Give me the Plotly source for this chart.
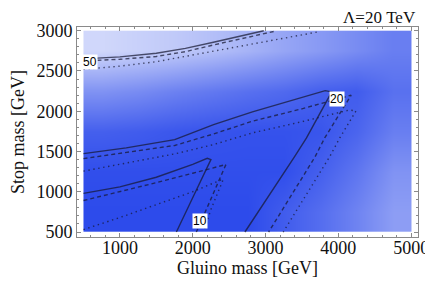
import plotly.graph_objects as go

# ---------------- background density (lightness 0=dark blue, 1=white) --------
bg_x_edges = [500, 1000, 1500, 2000, 2500, 3000, 3500, 4000, 4500, 5000]
bg_y_edges = [500, 1000, 1500, 2000, 2500, 3000]
bg_z = [
    [0.00, 0.00, 0.00, 0.00, 0.00, 0.10, 0.20, 0.33, 0.48],
    [0.02, 0.02, 0.02, 0.02, 0.02, 0.02, 0.12, 0.25, 0.42],
    [0.12, 0.10, 0.07, 0.05, 0.04, 0.04, 0.06, 0.15, 0.30],
    [0.42, 0.38, 0.32, 0.27, 0.22, 0.18, 0.12, 0.10, 0.22],
    [0.82, 0.78, 0.74, 0.68, 0.61, 0.53, 0.46, 0.38, 0.30],
]

# ---------------- contour lines -----------------------------------------------
x50_solid = [500, 1000, 1500, 1900, 2300, 2650, 2976]
y50_solid = [2650, 2675, 2720, 2780, 2860, 2930, 3000]
x50_dash = [500, 1000, 1500, 1900, 2300, 2700, 3150]
y50_dash = [2625, 2645, 2680, 2740, 2826, 2905, 2998]
x50_dot = [500, 1000, 1500, 2000, 2300, 3000, 3750]
y50_dot = [2520, 2560, 2615, 2700, 2750, 2865, 2990]

x20_solid = [500, 1087, 1753, 2287, 2820, 3400, 3820, 3909, 3563, 3397, 2717]
y20_solid = [1474, 1545, 1648, 1834, 1991, 2140, 2256, 2240, 1669, 1433, 500]
x20_dash = [500, 1753, 2287, 2820, 3500, 4153, 4176, 3813, 3680, 3043]
y20_dash = [1412, 1575, 1718, 1876, 2030, 2186, 2199, 1669, 1433, 500]
x20_dot = [500, 1753, 2287, 2820, 3500, 4150, 4243, 4020, 3880, 3243]
y20_dot = [1256, 1470, 1586, 1731, 1870, 2015, 2005, 1669, 1433, 500]

x10_solid = [500, 1000, 1500, 1750, 2000, 2200, 2250, 2013, 1776]
y10_solid = [980, 1060, 1180, 1260, 1340, 1415, 1400, 950, 500]
x10_dash = [500, 1000, 1487, 2000, 2420, 2456, 2197, 2113, 2050]
y10_dash = [891, 1000, 1110, 1230, 1330, 1338, 800, 640, 500]
x10_dot = [500, 1000, 1500, 2000, 2397, 2420, 2250, 2150]
y10_dot = [530, 680, 840, 1000, 1150, 1155, 780, 500]

label_text = ["50", "20", "10"]
label_x = [595, 3985, 2100]
label_y = [2611, 2150, 640]

x_ticks = [1000, 2000, 3000, 4000, 5000]
y_ticks = [500, 1000, 1500, 2000, 2500, 3000]

SERIF = "Liberation Serif"

fig = go.Figure()

fig.add_trace(go.Heatmap(
    x=bg_x_edges, y=bg_y_edges, z=bg_z, zmin=0, zmax=1, zsmooth="best",
    colorscale=[[0, "rgb(45,75,235)"], [1, "rgb(244,246,254)"]],
    showscale=False, hoverinfo="skip"))

line_color = "rgba(22,24,48,0.72)"
sets = [
    (x50_solid, y50_solid, "solid"), (x50_dash, y50_dash, "4px,3px"), (x50_dot, y50_dot, "1.4px,3.6px"),
    (x20_solid, y20_solid, "solid"), (x20_dash, y20_dash, "4px,3px"), (x20_dot, y20_dot, "1.4px,3.6px"),
    (x10_solid, y10_solid, "solid"), (x10_dash, y10_dash, "4px,3px"), (x10_dot, y10_dot, "1.4px,3.6px"),
]
for xs, ys, d in sets:
    fig.add_trace(go.Scatter(x=xs, y=ys, mode="lines",
                             line=dict(color=line_color, width=1.4, dash=d),
                             showlegend=False, hoverinfo="skip"))

for t, lx, ly in zip(label_text, label_x, label_y):
    fig.add_annotation(x=lx, y=ly, text=t, showarrow=False,
                       font=dict(family="Liberation Sans", size=12, color="black"),
                       bgcolor="white", borderpad=0)

axis_common = dict(
    showline=True, linecolor="#8a8a8a", linewidth=1, mirror="allticks",
    ticks="inside", ticklen=4, tickcolor="#8a8a8a", showgrid=False, zeroline=False,
    tickfont=dict(family=SERIF, size=18, color="#111"),
)
fig.update_xaxes(range=[411, 5094], tickvals=x_ticks, ticklabelstandoff=-6, **axis_common,
                 minor=dict(ticks="inside", ticklen=2, dtick=200, tick0=0, tickcolor="#8a8a8a"))
fig.update_yaxes(range=[438, 3046], tickvals=y_ticks, **axis_common,
                 minor=dict(ticks="inside", ticklen=2, dtick=100, tick0=0, tickcolor="#8a8a8a"))

fig.add_annotation(xref="paper", yref="paper", x=0.5, y=0, yanchor="top", yshift=-19,
                   text="Gluino mass [GeV]", showarrow=False,
                   font=dict(family=SERIF, size=18, color="#111"))
fig.add_annotation(xref="paper", yref="paper", x=0, y=0.5, xanchor="center", xshift=-59,
                   text="Stop mass [GeV]", textangle=-90, showarrow=False,
                   font=dict(family=SERIF, size=18, color="#111"))
fig.add_annotation(xref="paper", yref="paper", x=1, y=1, xanchor="right", yanchor="bottom", yshift=-2,
                   text="Λ=20 TeV", showarrow=False,
                   font=dict(family=SERIF, size=17, color="#111"))

fig.update_layout(width=433, height=282, margin=dict(l=69, r=14, t=19, b=53),
                  paper_bgcolor="white", plot_bgcolor="white", showlegend=False)

fig.write_html("out.html")
